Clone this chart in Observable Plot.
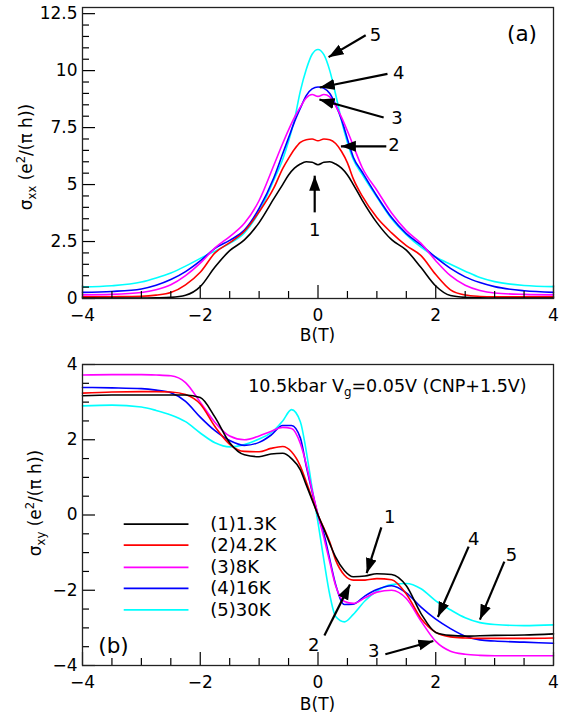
<!DOCTYPE html>
<html><head><meta charset="utf-8">
<script src="https://cdn.jsdelivr.net/npm/d3@7"></script>
<script src="https://cdn.jsdelivr.net/npm/@observablehq/plot@0.6"></script>
<style>
body{margin:0;background:#fff;}
svg{display:block;}
</style></head><body><div id="chart"></div>
<script>
// ---------- data ----------
const seriesNames = ["(1)1.3K","(2)4.2K","(3)8K","(4)16K","(5)30K"];
const colors = ["#000000","#ff0000","#ff00ff","#0000ff","#00ffff"];

// panel (a): sigma_xx vs B
const bA = [-4,-3.5,-3,-2.75,-2.5,-2.25,-2,-1.75,-1.5,-1.25,-1,-0.75,-0.6,-0.5,-0.4,-0.3,-0.2,-0.1,0,0.1,0.2,0.3,0.4,0.5,0.6,0.75,1,1.25,1.5,1.75,2,2.25,2.5,2.75,3,3.5,4];
const sxx1 = [0.02,0.02,0.02,0.03,0.05,0.14,0.52,1.38,2.1,2.57,3.33,4.38,5.0,5.42,5.72,5.9,6.0,5.98,5.87,5.98,6.0,5.9,5.72,5.42,5.0,4.32,3.33,2.58,2.12,1.36,0.55,0.13,0.05,0.03,0.02,0.02,0.02];
const sxx2 = [0.07,0.08,0.1,0.15,0.26,0.6,1.15,2.0,2.45,2.95,3.8,4.85,5.7,6.15,6.55,6.85,6.97,7.0,6.92,7.0,6.97,6.8,6.45,5.95,5.25,4.5,3.55,2.88,2.32,1.88,1.05,0.38,0.15,0.09,0.07,0.07,0.07];
const sxx3 = [0.16,0.18,0.26,0.38,0.6,1.0,1.55,2.22,2.72,3.3,4.3,5.85,6.8,7.4,7.95,8.4,8.8,8.95,8.87,8.95,8.85,8.45,7.95,7.35,6.7,5.75,4.75,3.75,2.98,2.42,1.66,1.0,0.58,0.35,0.24,0.18,0.16];
const sxx4 = [0.27,0.31,0.42,0.58,0.83,1.18,1.65,2.2,2.55,3.0,3.95,5.3,6.35,7.05,7.75,8.35,8.9,9.2,9.28,9.22,9.0,8.5,7.85,7.0,6.2,5.55,4.5,3.55,2.85,2.35,1.8,1.32,0.95,0.7,0.52,0.34,0.27];
const sxx5 = [0.51,0.56,0.72,0.9,1.12,1.42,1.76,2.08,2.42,2.88,3.8,5.2,6.1,6.9,7.85,9.1,10.05,10.72,10.93,10.7,10.0,8.95,7.8,6.85,6.1,5.45,4.45,3.5,2.8,2.25,1.82,1.5,1.2,0.92,0.74,0.57,0.52];

// panel (b): sigma_xy vs B
const bB = [-4,-3.5,-3,-2.75,-2.5,-2.25,-2,-1.75,-1.5,-1.25,-1,-0.8,-0.6,-0.45,-0.3,-0.2,-0.1,0,0.1,0.2,0.3,0.45,0.6,0.8,1,1.25,1.5,1.75,2,2.25,2.5,2.75,3,3.5,4];
const sxy1 = [3.17,3.19,3.19,3.19,3.19,3.19,3.12,2.6,1.92,1.6,1.55,1.62,1.64,1.5,1.2,0.8,0.4,0.0,-0.37,-0.76,-1.12,-1.48,-1.64,-1.62,-1.56,-1.58,-1.88,-2.62,-3.12,-3.2,-3.22,-3.21,-3.2,-3.19,-3.16];
const sxy2 = [3.24,3.27,3.28,3.28,3.27,3.2,2.95,2.35,1.88,1.69,1.68,1.77,1.82,1.68,1.3,0.88,0.44,0.0,-0.35,-0.72,-1.2,-1.6,-1.73,-1.73,-1.69,-1.72,-2.1,-2.75,-3.12,-3.24,-3.27,-3.28,-3.28,-3.28,-3.27];
const sxy3 = [3.72,3.73,3.73,3.72,3.7,3.52,3.0,2.46,2.1,2.0,2.1,2.22,2.33,2.3,1.9,1.35,0.65,0.0,-0.6,-1.25,-1.88,-2.3,-2.35,-2.2,-2.05,-2.0,-2.22,-2.82,-3.36,-3.62,-3.7,-3.73,-3.74,-3.74,-3.74];
const sxy4 = [3.39,3.38,3.36,3.32,3.25,3.02,2.6,2.24,1.98,1.85,1.93,2.12,2.38,2.38,2.05,1.3,0.62,0.0,-0.5,-1.18,-1.85,-2.38,-2.37,-2.15,-1.98,-1.88,-2.07,-2.45,-2.77,-3.02,-3.22,-3.32,-3.35,-3.38,-3.41];
const sxy5 = [2.9,2.92,2.87,2.78,2.66,2.48,2.18,1.92,1.81,1.87,2.02,2.18,2.5,2.8,2.48,1.7,0.72,-0.2,-1.2,-2.12,-2.7,-2.84,-2.64,-2.28,-2.02,-1.85,-1.82,-1.96,-2.28,-2.52,-2.73,-2.86,-2.91,-2.94,-2.92];

// ticks
const xMajor = [-4,-2,0,2,4];
const yMajorA = [0,2.5,5,7.5,10,12.5];
const yMajorB = [-4,-2,0,2,4];

// annotations (data units)
const labelsA = [
  {t:"5",B:0.975,v:11.55},{t:"4",B:1.37,v:9.9},{t:"3",B:1.343,v:7.89},
  {t:"2",B:1.29,v:6.71},{t:"1",B:-0.056,v:2.98}
];
const arrowsA = [
  {B1:0.81,v1:11.55,B2:0.18,v2:10.59},
  {B1:1.18,v1:9.86,B2:0.03,v2:9.26},
  {B1:1.115,v1:7.94,B2:0.024,v2:8.73},
  {B1:1.16,v1:6.68,B2:0.389,v2:6.68},
  {B1:-0.056,v1:3.78,B2:-0.056,v2:5.39}
];
const labelsB = [
  {t:"1",B:1.217,v:-0.05},{t:"2",B:-0.073,v:-3.46},{t:"3",B:0.946,v:-3.62},
  {t:"4",B:2.643,v:-0.64},{t:"5",B:3.284,v:-1.08}
];
const arrowsB = [
  {B1:1.076,v1:-0.33,B2:0.827,v2:-1.545},
  {B1:0.109,v1:-3.2,B2:0.543,v2:-1.85},
  {B1:1.144,v1:-3.70,B2:1.959,v2:-3.35},
  {B1:2.559,v1:-0.84,B2:2.036,v2:-2.71},
  {B1:3.165,v1:-1.24,B2:2.75,v2:-2.78}
];
const legendY = [-0.24,-0.8,-1.39,-1.95,-2.52];
const legendX = {x1:-3.30, x2:-2.20, xt:-1.83};

// ---------- helpers ----------
const fmt = d => d < 0 ? "\u2212" + Math.abs(d) : String(d);
function rows(b, arrs){
  const out = [];
  for (let i = arrs.length - 1; i >= 0; i--) b.forEach((x, j) => out.push({B:x, v:arrs[i][j], c:colors[i]}));
  return out;
}
function minorTicks(lo, hi, step, majors){
  return d3.range(lo, hi + 1e-9, step).filter(t => !majors.some(m => Math.abs(m - t) < 1e-9));
}
function fixMarkers(svg){
  svg.querySelectorAll("marker").forEach(m => {
    m.setAttribute("viewBox","-15 -6 15 12");
    m.setAttribute("markerWidth","15");
    m.setAttribute("markerHeight","12");
    m.setAttribute("markerUnits","userSpaceOnUse");
    m.setAttribute("refX","0"); m.setAttribute("refY","0");
    m.setAttribute("fill","#000"); m.setAttribute("stroke","none");
    m.innerHTML = '<path d="M0,0L-15,-5.5L-15,5.5Z"/>';
  });
}
const W = 563, ML = 82, MR = 10;
const innerW = W - ML - MR;

function panel({b, arrs, yDomain, yMajor, height, mt, mb, labels, arrows, tag, legend}){
  const innerH = height - mt - mb;
  const marks = [
    Plot.line(rows(b, arrs), {x:"B", y:"v", z:"c", stroke:"c", strokeWidth:1.6, curve:"monotone-x"}),
    Plot.tickX(minorTicks(-4, 4, 0.5, xMajor), {x:d=>d, insetTop: innerH - 7, stroke:"#000", strokeWidth:1.2}),
    Plot.tickX(xMajor, {x:d=>d, insetTop: innerH - 13, stroke:"#000", strokeWidth:1.2}),
    Plot.tickY(minorTicks(yDomain[0] < 0 ? yDomain[0] : 0, yMajor[yMajor.length-1], 0.5, yMajor), {y:d=>d, insetRight: innerW - 7, stroke:"#000", strokeWidth:1.2}),
    Plot.tickY(yMajor, {y:d=>d, insetRight: innerW - 13, stroke:"#000", strokeWidth:1.2}),
    Plot.axisX(xMajor, {tickSize:0, tickPadding:10, tickFormat:fmt, label:null}),
    Plot.axisY(yMajor, {tickSize:0, tickPadding:5, tickFormat:fmt, label:null}),
    Plot.link(arrows, {x1:"B1", y1:"v1", x2:"B2", y2:"v2", stroke:"#000", strokeWidth:2.2, markerEnd:"arrow"}),
    Plot.text(labels, {x:"B", y:"v", text:"t", fontSize:18, fill:"#000"}),
    Plot.text([tag], {x:"B", y:"v", text:"t", fontSize:21.5, fill:"#000"}),
    Plot.frame({stroke:"#222", strokeWidth:1.3})
  ];
  if (legend) {
    const lg = legendY.map((y, i) => ({y, c:colors[i], t:seriesNames[i]}));
    marks.push(Plot.link(lg, {x1:()=>legendX.x1, x2:()=>legendX.x2, y1:"y", y2:"y", stroke:"c", strokeWidth:1.8}));
    marks.push(Plot.text(lg, {x:()=>legendX.xt, y:"y", text:"t", textAnchor:"start", fontSize:18, fill:"#000"}));
  }
  const chart = Plot.plot({
    width: W, height, marginLeft: ML, marginRight: MR, marginTop: mt, marginBottom: mb,
    x: {domain:[-4,4]}, y: {domain:yDomain},
    style: {fontFamily:"DejaVu Sans", fontSize:"17px", background:"#fff", color:"#000", overflow:"visible"},
    marks
  });
  fixMarkers(chart);
  return chart;
}

function addText(svg, x, y, parts, opts = {}){
  const t = d3.select(svg).append("text")
    .attr("font-size", opts.size || 17).attr("fill", "#000")
    .attr("text-anchor", opts.anchor || "middle");
  if (opts.rotate) t.attr("transform", `translate(${x},${y}) rotate(-90)`);
  else t.attr("x", x).attr("y", y);
  let shift = 0;
  parts.forEach(p => {
    const s = t.append("tspan").text(p.text);
    const target = p.sub ? 4 : p.sup ? -7 : 0;
    if (target - shift !== 0) s.attr("dy", target - shift);
    shift = target;
    if (p.sub || p.sup) s.attr("font-size", (opts.size || 17) * 0.68);
  });
  return t;
}

const root = document.getElementById("chart");

// panel (a)
const topH = 345;
const chartA = panel({b:bA, arrs:[sxx1,sxx2,sxx3,sxx4,sxx5], yDomain:[0,12.77], yMajor:yMajorA,
  height:topH, mt:7, mb:47, labels:labelsA, arrows:arrowsA, tag:{t:"(a)",B:3.465,v:11.59}, legend:false});
root.appendChild(chartA);
{
  const xs = chartA.scale("x");
  addText(chartA, xs.apply(0), 341, [{text:"B(T)"}]);
  addText(chartA, 32, 157, [{text:"σ"},{text:"xx",sub:true},{text:" (e"},{text:"2",sup:true},{text:"/(π h))"}], {rotate:true});
}

// panel (b)
const botH = 715 - topH;
const chartB = panel({b:bB, arrs:[sxy1,sxy2,sxy3,sxy4,sxy5], yDomain:[-4,4], yMajor:yMajorB,
  height:botH, mt:19, mb:50, labels:labelsB, arrows:arrowsB, tag:{t:"(b)",B:-3.474,v:-3.49}, legend:true});
root.appendChild(chartB);
{
  const xs = chartB.scale("x"), ys = chartB.scale("y");
  addText(chartB, xs.apply(0), 710 - topH, [{text:"B(T)"}]);
  addText(chartB, 41, 503 - topH, [{text:"σ"},{text:"xy",sub:true},{text:" (e"},{text:"2",sup:true},{text:"/(π h))"}], {rotate:true});
  addText(chartB, xs.apply(-1.177), ys.apply(3.255), [{text:"10.5kbar V"},{text:"g",sub:true},{text:"=0.05V (CNP+1.5V)"}], {anchor:"start", size:17.5});
}
</script></body></html>
